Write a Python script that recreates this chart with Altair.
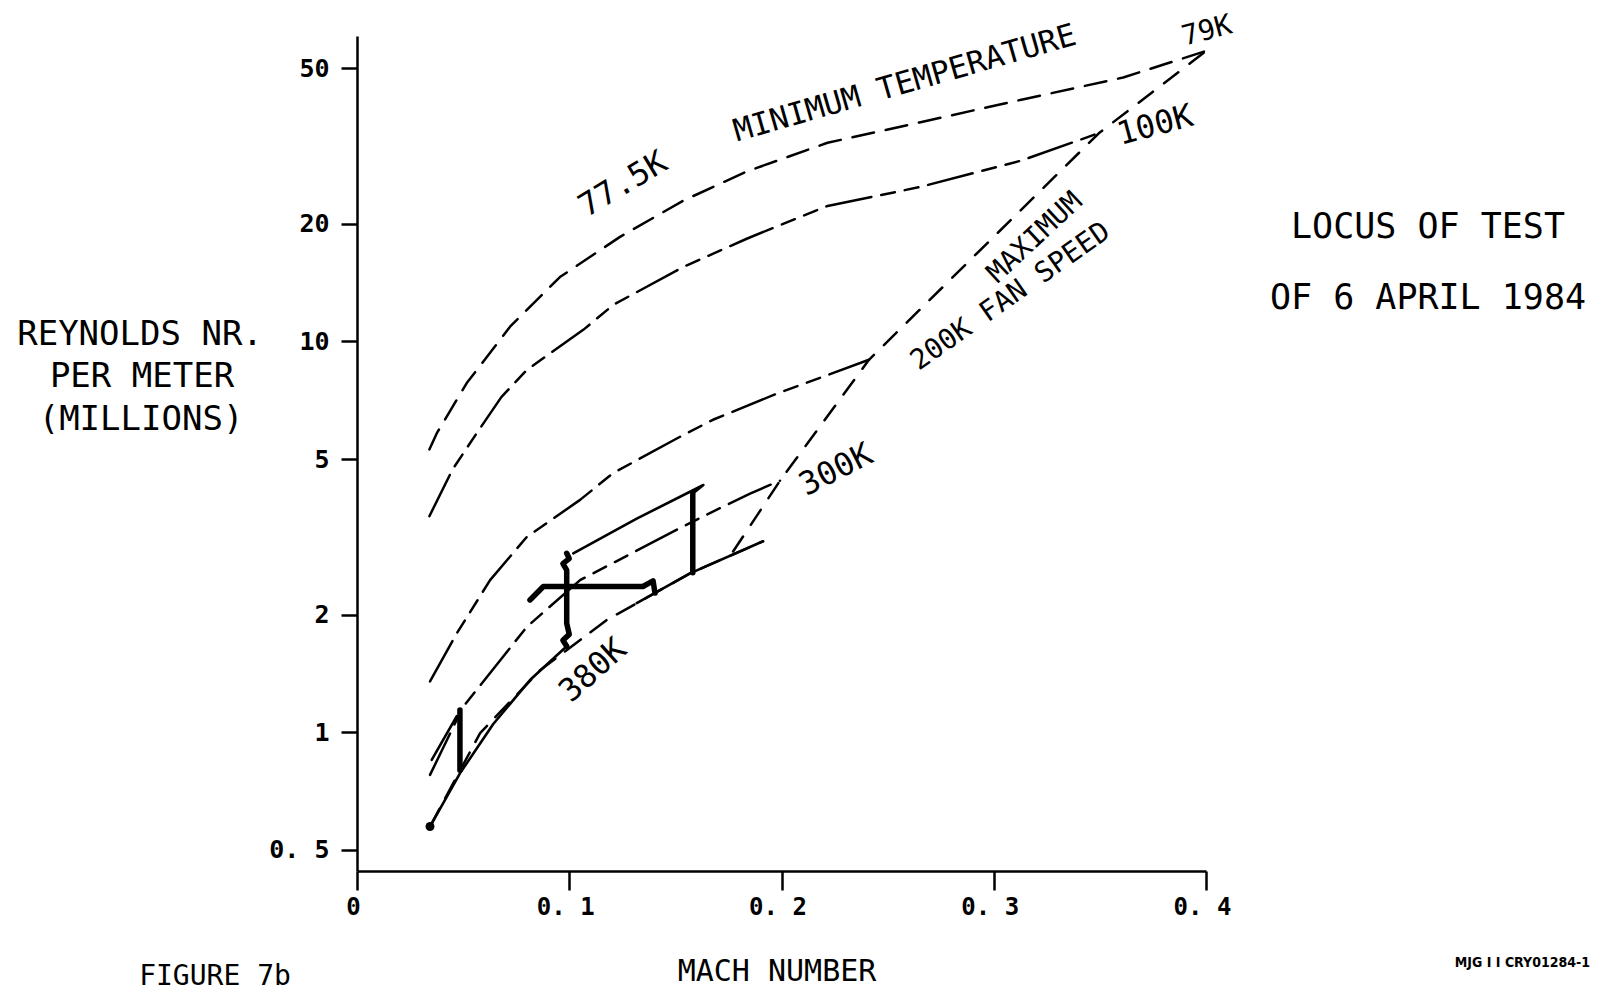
import altair as alt
import pandas as pd

# ---- curve data (Mach number, Reynolds number per meter in millions) ----
min_temp_M = [0.0341, 0.0376, 0.0517, 0.0721, 0.0956, 0.1239, 0.1537, 0.1836, 0.2217, 0.265, 0.313, 0.361, 0.4]
min_temp_R = [5.29, 5.82, 7.82, 10.9, 14.6, 18.5, 22.9, 27.2, 32.2, 36.3, 41.5, 47.3, 55.3]

k100_M = [0.0341, 0.045, 0.0564, 0.068, 0.080, 0.1066, 0.1208, 0.1537, 0.1836, 0.2217, 0.265, 0.313, 0.3496]
k100_R = [3.57, 4.7, 5.82, 7.2, 8.45, 10.7, 12.4, 15.5, 18.3, 22.2, 24.8, 29.0, 34.1]

k200_M = [0.0344, 0.047, 0.0627, 0.080, 0.1051, 0.1206, 0.1522, 0.1677, 0.1979, 0.2412]
k200_R = [1.35, 1.79, 2.45, 3.16, 3.93, 4.60, 5.7, 6.30, 7.35, 8.97]

k300_M = [0.0344, 0.0499, 0.080, 0.1051, 0.1206, 0.1522, 0.1726, 0.1852, 0.1993]
k300_R = [0.778, 1.16, 1.86, 2.45, 2.71, 3.33, 3.78, 4.08, 4.40]

k380_M = [0.0344, 0.058, 0.0862, 0.105, 0.1178, 0.1333, 0.1569, 0.1913]
k380_R = [0.574, 0.995, 1.44, 1.72, 1.94, 2.16, 2.55, 3.08]

fan_M = [0.1772, 0.1993, 0.2412, 0.3496, 0.4]
fan_R = [2.90, 4.40, 8.97, 34.1, 55.3]

# test locus segments: name -> (M list, R list)
test_thin = {
    "t1": ([0.0344, 0.0485, 0.0642, 0.0815, 0.0988], [0.574, 0.785, 1.05, 1.36, 1.66]),
    "t3": ([0.0352, 0.047], [0.85, 1.10]),
    "t6": ([0.1318, 0.1569, 0.1913], [2.14, 2.55, 3.08]),
    "t8": ([0.1019, 0.1318, 0.1632, 0.1582], [2.87, 3.52, 4.29, 4.08]),
}
test_thick = {
    "t2": ([0.0485, 0.0485], [0.80, 1.14]),
    "t4": ([0.0988, 0.097, 0.1, 0.0988, 0.0988, 0.097, 0.1, 0.0988], [1.66, 1.72, 1.78, 1.9, 2.6, 2.7, 2.78, 2.87]),
    "t5": ([0.0815, 0.0878, 0.1286, 0.1347, 0.1395, 0.1404], [2.18, 2.36, 2.36, 2.36, 2.44, 2.27]),
    "t7": ([0.1582, 0.1582], [2.56, 4.08]),
}

start_M = [0.0344]
start_R = [0.574]

# in-plot curve labels
lab_text = ["MINIMUM TEMPERATURE", "77.5K", "79K", "100K", "MAXIMUM", "200K FAN SPEED", "300K", "380K"]
lab_M = [0.2582, 0.1253, 0.4005, 0.376, 0.3195, 0.308, 0.2257, 0.1112]
lab_R = [45.5, 25.2, 62.0, 35.7, 18.4, 13.0, 4.69, 1.44]
lab_angle = [344, 329, 345, 345, 317, 325, 333, 318]
lab_size = [31, 32, 28, 32, 28, 28, 32, 32]

x_ticks = [0, 0.1, 0.2, 0.3, 0.4]
y_ticks = [0.5, 1, 2, 5, 10, 20, 50]

MONO = "DejaVu Sans Mono"
W, H = 849, 835
X0, Y0 = 357, 36  # page position of plot origin


def frame(name, M, R):
    return pd.DataFrame({"series": name, "M": M, "R": R, "order": range(len(M))})


xs = alt.X("M:Q", scale=alt.Scale(domain=[0, 0.4], nice=False, zero=False),
           axis=alt.Axis(values=x_ticks, title=None, grid=False, tickSize=19, tickWidth=2.5,
                         domainWidth=2.5, domainColor="black", tickColor="black",
                         labelFont=MONO, labelFontSize=24, labelFontWeight="bold",
                         labelColor="black", labelPadding=5, labelFlush=False, labelOffset=-4,
                         labelExpr="datum.value == 0 ? '0' : replace(format(datum.value, '.1f'), '.', '. ')"))
ys = alt.Y("R:Q", scale=alt.Scale(type="log", domain=[0.4417, 60.4], nice=False),
           axis=alt.Axis(values=y_ticks, title=None, grid=False, tickSize=16, tickWidth=2.5,
                         domainWidth=2.5, domainColor="black", tickColor="black",
                         labelFont=MONO, labelFontSize=25, labelFontWeight="bold",
                         labelColor="black", labelPadding=12, labelFlush=False,
                         labelExpr="datum.value == 0.5 ? '0. 5' : format(datum.value, 'd')"))


def line(df, dash=None, width=2.5, axes=False):
    kw = dict(color="black", strokeWidth=width, strokeCap="round", strokeJoin="round", clip=False)
    if dash:
        kw["strokeDash"] = dash
    enc = dict(x=xs if axes else alt.X("M:Q"), y=ys if axes else alt.Y("R:Q"),
               detail="series:N", order="order:Q")
    return alt.Chart(df).mark_line(**kw).encode(**enc)


layers = []
layers.append(line(frame("min", min_temp_M, min_temp_R), dash=[22, 12], axes=True))
dashdot = [46, 10, 14, 10, 14, 10]
layers.append(line(pd.concat([frame("k100", k100_M, k100_R), frame("k200", k200_M, k200_R),
                              frame("k300", k300_M, k300_R)]), dash=dashdot))
layers.append(line(frame("k380", k380_M, k380_R), dash=[20, 12]))
layers.append(line(frame("fan", fan_M, fan_R), dash=[18, 14]))
layers.append(line(pd.concat([frame(k, v[0], v[1]) for k, v in test_thin.items()]), width=2.6))
layers.append(line(pd.concat([frame(k, v[0], v[1]) for k, v in test_thick.items()]), width=5.5))
layers.append(alt.Chart(pd.DataFrame({"M": start_M, "R": start_R})).mark_point(
    filled=True, color="black", size=80, opacity=1).encode(x="M:Q", y="R:Q"))

for t, m, r, a, s in zip(lab_text, lab_M, lab_R, lab_angle, lab_size):
    layers.append(alt.Chart(pd.DataFrame({"M": [m], "R": [r], "t": [t]})).mark_text(
        font=MONO, fontSize=s, angle=a, color="black", align="center", baseline="middle",
        clip=False).encode(x="M:Q", y="R:Q", text="t:N"))

# outside texts placed in page pixels
outside = [
    ("REYNOLDS NR.", 140, 335, 34, MONO, "normal", "center"),
    ("PER METER", 142, 377, 34, MONO, "normal", "center"),
    ("(MILLIONS)", 141, 420, 34, MONO, "normal", "center"),
    ("LOCUS OF TEST", 1428, 227, 35, MONO, "normal", "center"),
    ("OF 6 APRIL 1984", 1428, 298, 35, MONO, "normal", "center"),
    ("MACH NUMBER", 777, 972, 30, MONO, "normal", "center"),
    ("FIGURE 7b", 215, 977, 28, MONO, "normal", "center"),
    ("MJG I I CRY01284-1", 1590, 963, 14, "DejaVu Sans Condensed", "bold", "right"),
]
for t, px, py, s, f, wgt, al in outside:
    layers.append(alt.Chart(pd.DataFrame({"t": [t]})).mark_text(
        font=f, fontSize=s, fontWeight=wgt, color="black", align=al, baseline="middle").encode(
        x=alt.value(px - X0), y=alt.value(py - Y0), text="t:N"))

chart = alt.layer(*layers).properties(
    width=W, height=H,
    autosize=alt.AutoSizeParams(type="none"),
    padding={"left": X0 - 8, "top": Y0 - 8, "right": 386, "bottom": 120},
    background="white",
).configure_view(stroke=None)

chart.save("out.html", embed_options={"renderer": "svg", "actions": False})
